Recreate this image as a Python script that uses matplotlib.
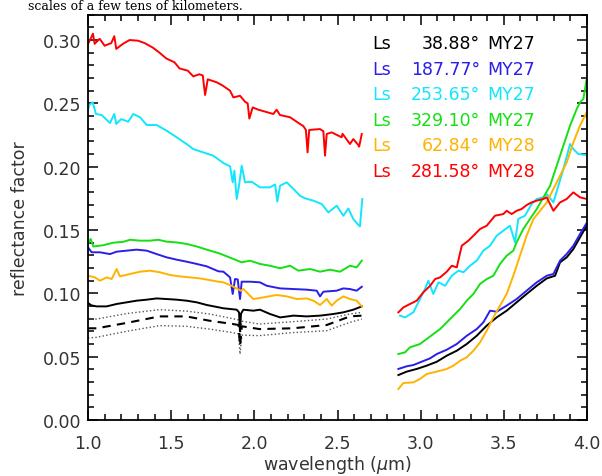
import matplotlib
matplotlib.use('Agg')
import matplotlib.pyplot as plt
from matplotlib.ticker import MultipleLocator

# spectra: short-wavelength (vis) and long-wavelength (ir) parts
wl_vis_red = [1.0, 1.012, 1.03, 1.04, 1.07, 1.10, 1.14, 1.158, 1.17, 1.21, 1.25, 1.30, 1.34, 1.39, 1.43, 1.47,
              1.52, 1.55, 1.60, 1.633, 1.67, 1.69, 1.704, 1.72, 1.774, 1.81, 1.854, 1.874, 1.914, 1.944, 1.96,
              1.97, 1.99, 2.024, 2.114, 2.134, 2.154, 2.215, 2.275, 2.295, 2.31, 2.32, 2.33, 2.395, 2.415,
              2.425, 2.435, 2.465, 2.525, 2.53, 2.575, 2.595, 2.625, 2.63, 2.646]
rf_vis_red = [0.297, 0.300, 0.305, 0.297, 0.301, 0.2955, 0.2976, 0.303, 0.293, 0.297, 0.300, 0.2995, 0.2976,
              0.294, 0.290, 0.2855, 0.2824, 0.2776, 0.2758, 0.2713, 0.273, 0.272, 0.2566, 0.269, 0.2666, 0.264,
              0.260, 0.2547, 0.256, 0.2513, 0.250, 0.238, 0.2468, 0.245, 0.2416, 0.245, 0.2408, 0.239, 0.2337,
              0.232, 0.229, 0.2113, 0.229, 0.2297, 0.228, 0.2087, 0.2258, 0.2271, 0.2232, 0.226, 0.2179,
              0.2218, 0.2171, 0.2158, 0.2258]
wl_ir_red = [2.866, 2.896, 2.936, 2.976, 3.016, 3.057, 3.087, 3.117, 3.157, 3.187, 3.217, 3.247, 3.287, 3.317,
             3.357, 3.397, 3.447, 3.497, 3.517, 3.547, 3.577, 3.607, 3.637, 3.667, 3.698, 3.738, 3.758, 3.798,
             3.838, 3.878, 3.918, 3.958, 3.998]
rf_ir_red = [0.085, 0.0889, 0.0916, 0.0942, 0.1008, 0.106, 0.1113, 0.1126, 0.1171, 0.1218, 0.1205, 0.1376,
             0.1416, 0.1455, 0.1508, 0.1534, 0.1613, 0.1626, 0.1652, 0.1626, 0.1652, 0.1666, 0.1697, 0.1718,
             0.1732, 0.1745, 0.1758, 0.1652, 0.1718, 0.1745, 0.1797, 0.1758, 0.1745]

wl_vis_cyan = [1.0, 1.008, 1.028, 1.048, 1.082, 1.132, 1.158, 1.17, 1.20, 1.242, 1.272, 1.313, 1.353, 1.413,
               1.473, 1.533, 1.593, 1.633, 1.693, 1.753, 1.814, 1.854, 1.87, 1.88, 1.894, 1.908, 1.924, 1.944,
               1.984, 2.034, 2.094, 2.125, 2.138, 2.155, 2.195, 2.235, 2.275, 2.305, 2.355, 2.405, 2.445,
               2.495, 2.535, 2.565, 2.595, 2.625, 2.635, 2.649]
rf_vis_cyan = [0.245, 0.2487, 0.2508, 0.2416, 0.2408, 0.2345, 0.2416, 0.2337, 0.2376, 0.2355, 0.2416, 0.239,
               0.2329, 0.2329, 0.2284, 0.2232, 0.2179, 0.2139, 0.2113, 0.2087, 0.2029, 0.2003, 0.1876, 0.1968,
               0.1745, 0.185, 0.2008, 0.1876, 0.1881, 0.1837, 0.1837, 0.186, 0.1724, 0.185, 0.1876, 0.1824,
               0.177, 0.175, 0.1732, 0.1705, 0.1639, 0.1692, 0.1613, 0.167, 0.1587, 0.154, 0.1529, 0.1745]
wl_ir_cyan = [2.876, 2.906, 2.956, 2.996, 3.026, 3.046, 3.076, 3.107, 3.147, 3.187, 3.227, 3.257, 3.297,
              3.337, 3.377, 3.417, 3.457, 3.497, 3.537, 3.567, 3.587, 3.627, 3.667, 3.698, 3.738, 3.758,
              3.798, 3.828, 3.858, 3.898, 3.918, 3.948, 3.998]
rf_ir_cyan = [0.0824, 0.081, 0.085, 0.0955, 0.1034, 0.11, 0.0995, 0.1087, 0.106, 0.1139, 0.1179, 0.1166,
              0.1218, 0.1258, 0.1337, 0.1376, 0.1455, 0.1495, 0.1534, 0.1403, 0.1587, 0.1613, 0.1705, 0.1745,
              0.1758, 0.1784, 0.1718, 0.185, 0.1982, 0.2179, 0.2139, 0.21, 0.2092]

wl_vis_green = [1.0, 1.016, 1.032, 1.092, 1.152, 1.212, 1.253, 1.313, 1.373, 1.423, 1.473, 1.533, 1.593,
                1.654, 1.714, 1.784, 1.814, 1.884, 1.924, 1.974, 2.034, 2.094, 2.155, 2.215, 2.265, 2.335,
                2.395, 2.455, 2.515, 2.575, 2.615, 2.646]
rf_vis_green = [0.139, 0.143, 0.137, 0.138, 0.140, 0.1407, 0.1423, 0.1416, 0.1416, 0.1423, 0.1408, 0.1402,
                0.139, 0.137, 0.1345, 0.1318, 0.1303, 0.1266, 0.1245, 0.1258, 0.1232, 0.1218, 0.1198, 0.1218,
                0.1179, 0.1192, 0.1171, 0.1187, 0.1171, 0.1218, 0.1205, 0.1258]
wl_ir_green = [2.866, 2.906, 2.936, 2.996, 3.036, 3.076, 3.117, 3.157, 3.197, 3.237, 3.277, 3.317, 3.357,
               3.397, 3.437, 3.477, 3.517, 3.557, 3.577, 3.617, 3.657, 3.698, 3.738, 3.778, 3.818, 3.858,
               3.898, 3.938, 3.958, 3.978, 3.998]
rf_ir_green = [0.0521, 0.0534, 0.0574, 0.06, 0.0639, 0.0679, 0.0718, 0.0771, 0.0824, 0.0876, 0.0942,
               0.0995, 0.1074, 0.1113, 0.1139, 0.1232, 0.1297, 0.1337, 0.1403, 0.1508, 0.1587, 0.1666,
               0.1758, 0.185, 0.2008, 0.2166, 0.2324, 0.2455, 0.2508, 0.2534, 0.2692]

wl_vis_blue = [1.0, 1.022, 1.072, 1.132, 1.172, 1.232, 1.292, 1.353, 1.413, 1.473, 1.533, 1.593, 1.654,
               1.714, 1.784, 1.814, 1.854, 1.87, 1.884, 1.90, 1.914, 1.924, 1.974, 2.034, 2.074, 2.155, 2.235,
               2.315, 2.375, 2.395, 2.415, 2.495, 2.535, 2.575, 2.615, 2.646]
rf_vis_blue = [0.1363, 0.1324, 0.1324, 0.131, 0.1329, 0.1337, 0.1345, 0.1337, 0.131, 0.1284, 0.1266, 0.125,
               0.1232, 0.1213, 0.1174, 0.1171, 0.1126, 0.0995, 0.1113, 0.111, 0.0955, 0.1092, 0.1092, 0.1087,
               0.106, 0.1039, 0.1034, 0.1029, 0.1021, 0.0976, 0.1013, 0.1021, 0.1039, 0.1034, 0.1021, 0.1052]
wl_ir_blue = [2.866, 2.916, 2.956, 2.996, 3.057, 3.097, 3.157, 3.217, 3.277, 3.337, 3.377, 3.417, 3.457,
              3.517, 3.577, 3.637, 3.698, 3.758, 3.798, 3.838, 3.878, 3.918, 3.958, 3.998]
rf_ir_blue = [0.0403, 0.0424, 0.0434, 0.0455, 0.0487, 0.0521, 0.0555, 0.06, 0.0665, 0.0718, 0.0771, 0.0863,
              0.0855, 0.0903, 0.0955, 0.1021, 0.1087, 0.1139, 0.1153, 0.1258, 0.1311, 0.1376, 0.1468, 0.1555]

wl_vis_orange = [1.0, 1.042, 1.072, 1.112, 1.142, 1.172, 1.192, 1.253, 1.313, 1.373, 1.433, 1.493, 1.553,
                 1.613, 1.673, 1.734, 1.784, 1.814, 1.864, 1.918, 1.934, 1.994, 2.054, 2.134, 2.195, 2.255,
                 2.315, 2.355, 2.395, 2.435, 2.465, 2.495, 2.535, 2.575, 2.615, 2.646]
rf_vis_orange = [0.1139, 0.1126, 0.11, 0.1126, 0.1113, 0.1192, 0.1134, 0.1153, 0.1171, 0.1179, 0.1166,
                 0.1145, 0.1134, 0.1126, 0.1118, 0.1104, 0.1092, 0.1087, 0.106, 0.1021, 0.1034, 0.0955, 0.0968,
                 0.0987, 0.0976, 0.0955, 0.096, 0.0942, 0.0908, 0.0955, 0.0903, 0.0942, 0.0976, 0.0955,
                 0.0942, 0.0897]
wl_ir_orange = [2.866, 2.896, 2.956, 2.996, 3.036, 3.076, 3.117, 3.157, 3.197, 3.237, 3.277, 3.317, 3.357,
                3.397, 3.437, 3.477, 3.517, 3.557, 3.597, 3.637, 3.678, 3.718, 3.758, 3.798, 3.838, 3.878,
                3.918, 3.958, 3.978, 3.998]
rf_ir_orange = [0.0245, 0.0292, 0.0297, 0.0324, 0.0363, 0.0376, 0.0389, 0.0403, 0.0429, 0.0468, 0.0495,
                0.0547, 0.0613, 0.0705, 0.081, 0.0903, 0.0995, 0.1139, 0.1297, 0.1455, 0.1587, 0.1652,
                0.1718, 0.1824, 0.1929, 0.2034, 0.2192, 0.2324, 0.2376, 0.2429]

wl_vis_black = [1.0, 1.02, 1.052, 1.112, 1.172, 1.232, 1.292, 1.353, 1.413, 1.473, 1.533, 1.593, 1.654,
                1.714, 1.784, 1.814, 1.894, 1.908, 1.914, 1.92, 1.934, 1.994, 2.034, 2.094, 2.155, 2.235,
                2.315, 2.395, 2.475, 2.535, 2.595, 2.646]
rf_vis_black = [0.0924, 0.0905, 0.0897, 0.0897, 0.0916, 0.0929, 0.0942, 0.095, 0.096, 0.0955, 0.095,
                0.0942, 0.0929, 0.0908, 0.089, 0.0882, 0.0871, 0.085, 0.070, 0.084, 0.0871, 0.0863, 0.0871,
                0.0837, 0.081, 0.0824, 0.0818, 0.0824, 0.0837, 0.085, 0.0871, 0.0897]
wl_ir_black = [2.866, 2.916, 2.976, 3.036, 3.097, 3.157, 3.217, 3.277, 3.337, 3.397, 3.457, 3.517, 3.577,
               3.637, 3.698, 3.758, 3.808, 3.838, 3.878, 3.918, 3.958, 3.998]
rf_ir_black = [0.0355, 0.0382, 0.0403, 0.0429, 0.046, 0.0508, 0.0547, 0.06, 0.0665, 0.0745, 0.081, 0.0863,
               0.0929, 0.0995, 0.106, 0.1118, 0.1139, 0.1245, 0.1284, 0.135, 0.1442, 0.1534]

# black mean (dashed) with its spread (dotted), vis part only
wl_mean = [1.0, 1.052, 1.23, 1.43, 1.59, 1.73, 1.87, 1.905, 1.914, 1.925, 2.03, 2.23, 2.435, 2.575, 2.646]
rf_mean = [0.0724, 0.0724, 0.0766, 0.0818, 0.0818, 0.0784, 0.0758, 0.075, 0.0585, 0.074, 0.0718, 0.0724,
           0.075, 0.0818, 0.0824]
rf_upper = [0.0803, 0.0797, 0.084, 0.0871, 0.086, 0.0837, 0.080, 0.079, 0.066, 0.078, 0.0758, 0.0776,
            0.0797, 0.0837, 0.085]
rf_lower = [0.0647, 0.0653, 0.070, 0.0745, 0.0740, 0.0718, 0.069, 0.068, 0.052, 0.067, 0.0666, 0.069,
            0.0705, 0.0771, 0.0797]

ls_values = ['38.88', '187.77', '253.65', '329.10', '62.84', '281.58']
mars_years = ['MY27', 'MY27', 'MY27', 'MY27', 'MY28', 'MY28']
colors = ['black', '#2b1ee8', '#12e6ff', '#14e014', '#ffb300', '#ff0000']

series = [
    (wl_vis_black, rf_vis_black, wl_ir_black, rf_ir_black),
    (wl_vis_blue, rf_vis_blue, wl_ir_blue, rf_ir_blue),
    (wl_vis_cyan, rf_vis_cyan, wl_ir_cyan, rf_ir_cyan),
    (wl_vis_green, rf_vis_green, wl_ir_green, rf_ir_green),
    (wl_vis_orange, rf_vis_orange, wl_ir_orange, rf_ir_orange),
    (wl_vis_red, rf_vis_red, wl_ir_red, rf_ir_red),
]

plt.rcParams['font.family'] = 'DejaVu Sans'
fig = plt.figure(figsize=(6.02, 4.77), dpi=100)
ax = fig.add_axes([88 / 602, 56 / 477, 499 / 602, 405.3 / 477])

ax.plot(wl_mean, rf_upper, ':', color='#555555', lw=1.0)
ax.plot(wl_mean, rf_lower, ':', color='#555555', lw=1.0)
ax.plot(wl_mean, rf_mean, '--', color='black', lw=1.5, dashes=(4, 3))

for (wv, rv, wi, ri), c in zip(series, colors):
    ax.plot(wv, rv, color=c, lw=1.4)
    ax.plot(wi, ri, color=c, lw=1.4)

ax.set_xlim(1.0, 4.0)
ax.set_ylim(0.0, 0.32)
ax.xaxis.set_major_locator(MultipleLocator(0.5))
ax.xaxis.set_minor_locator(MultipleLocator(0.1))
ax.yaxis.set_major_locator(MultipleLocator(0.05))
ax.yaxis.set_minor_locator(MultipleLocator(0.01))
ax.xaxis.set_major_formatter(plt.FormatStrFormatter('%.1f'))
ax.yaxis.set_major_formatter(plt.FormatStrFormatter('%.2f'))
ax.tick_params(which='both', direction='in', top=True, right=True, width=1.1, color='black')
ax.tick_params(which='major', length=7.5)
ax.tick_params(which='minor', length=4)
ax.tick_params(axis='x', pad=10, labelsize=12.5, labelcolor='#333333')
ax.tick_params(axis='y', pad=5, labelsize=12.5, labelcolor='#333333')
for s in ax.spines.values():
    s.set_linewidth(1.3)

ax.set_xlabel(r'wavelength ($\mu$m)', fontsize=12.5, color='#333333', labelpad=1)
ax.set_ylabel('reflectance factor', fontsize=12.5, color='#333333', labelpad=10)

# legend as coloured text rows
y0 = (421 - 44) / 1266.7
dy = 25.6 / 1266.7
for i, (lsv, my, c) in enumerate(zip(ls_values, mars_years, colors)):
    y = y0 - i * dy
    ax.text(2.708, y, 'Ls', color=c, fontsize=12.5, va='center', ha='left')
    ax.text(3.357, y, lsv + '\u00b0', color=c, fontsize=12.5, va='center', ha='right')
    ax.text(3.399, y, my, color=c, fontsize=12.5, va='center', ha='left')

# caption line from the page above the figure
fig.text(28 / 602, 1 - 10 / 477, 'scales of a few tens of kilometers.', family='DejaVu Serif',
         fontsize=9, va='baseline', ha='left', color='black')

fig.savefig('out.png', dpi=100)
